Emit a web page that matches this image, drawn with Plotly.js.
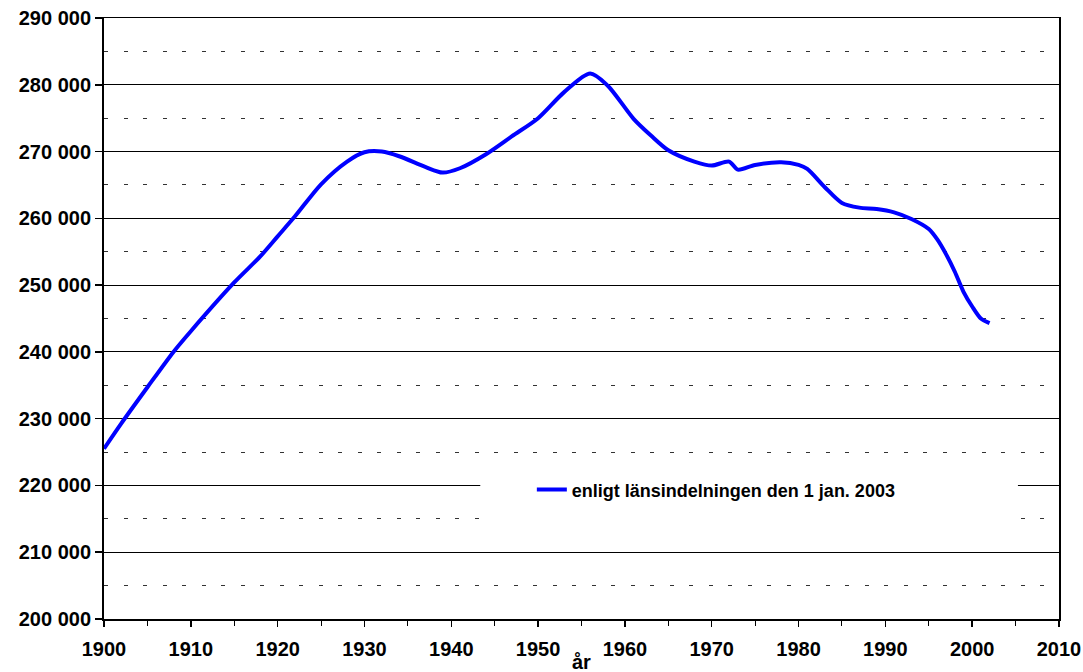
<!DOCTYPE html>
<html>
<head>
<meta charset="utf-8">
<script src="https://cdn.plot.ly/plotly-3.0.1.min.js"></script>
<style>html,body{margin:0;padding:0;background:#fff;overflow:hidden;}#chart{width:1083px;height:672px;}</style>
</head>
<body>
<div id="chart"></div>
<script>
const seriesName = 'enligt länsindelningen den 1 jan. 2003';
const years = [1900, 1902, 1905, 1908, 1910, 1915, 1918, 1920, 1922, 1925, 1928, 1930, 1932, 1934, 1937, 1939, 1941, 1944, 1947, 1950, 1953, 1956, 1958, 1961, 1963, 1965, 1968, 1970, 1972, 1973, 1975, 1978, 1980, 1981, 1983, 1985, 1987, 1989, 1991, 1993, 1995, 1996, 1997, 1998, 1999, 2000, 2001, 2002];
const population = [225500, 229300, 234700, 240000, 243100, 250400, 254300, 257300, 260300, 265100, 268500, 269900, 270000, 269300, 267700, 266850, 267500, 269600, 272300, 275000, 278900, 281700, 279900, 274900, 272400, 270200, 268500, 267900, 268500, 267300, 268000, 268400, 268000, 267400, 264700, 262300, 261600, 261400, 260900, 259900, 258400, 256800, 254600, 252000, 249000, 246800, 245000, 244300];
const xTicks = [1900, 1910, 1920, 1930, 1940, 1950, 1960, 1970, 1980, 1990, 2000, 2010];
const yTicks = [200000, 210000, 220000, 230000, 240000, 250000, 260000, 270000, 280000, 290000];
const yTickText = ['200 000', '210 000', '220 000', '230 000', '240 000', '250 000', '260 000', '270 000', '280 000', '290 000'];
const xTitle = 'år';

const FONT = 'Liberation Sans, Arial, sans-serif';

const trace = {
  x: years,
  y: population,
  type: 'scatter',
  mode: 'lines',
  name: seriesName,
  line: {color: '#0000FF', width: 4, shape: 'spline', smoothing: 0.8}
};

const layout = {
  width: 1083,
  height: 672,
  margin: {l: 104, r: 24, t: 18, b: 53, pad: 0},
  paper_bgcolor: '#ffffff',
  plot_bgcolor: '#ffffff',
  font: {family: FONT, size: 20, color: '#000'},
  showlegend: true,
  legend: {
    x: 0.448, y: 0.215, xanchor: 'left', yanchor: 'middle',
    bgcolor: 'rgba(0,0,0,0)', borderwidth: 0,
    font: {family: FONT, size: 18, color: '#000', weight: 'bold'}
  },
  xaxis: {
    range: [1900, 2010],
    tickvals: xTicks,
    ticktext: xTicks.map(String),
    ticks: 'outside', ticklen: 6, tickwidth: 1.5, tickcolor: '#000',
    tickfont: {family: FONT, size: 20, color: '#000', weight: 'bold'},
    ticklabelstandoff: 5,
    showline: true, linecolor: '#000', linewidth: 1.5, mirror: true,
    showgrid: false, zeroline: false,
    minor: {dtick: 5, tick0: 1900, ticks: 'outside', ticklen: 5, tickwidth: 1, tickcolor: '#000', showgrid: false},
    automargin: false
  },
  yaxis: {
    range: [200000, 290000],
    tickvals: yTicks,
    ticktext: yTickText,
    ticks: 'outside', ticklen: 7, tickwidth: 1.5, tickcolor: '#000',
    tickfont: {family: FONT, size: 20, color: '#000', weight: 'bold'},
    showline: true, linecolor: '#000', linewidth: 2, mirror: true,
    showgrid: true, gridcolor: '#000', gridwidth: 1,
    zeroline: false,
    minor: {dtick: 5000, tick0: 200000, showgrid: true, gridcolor: '#333', gridwidth: 1, griddash: '4px,15.5px', ticks: ''},
    automargin: false
  },
  annotations: [{
    text: xTitle, xref: 'paper', yref: 'paper', x: 0.5, y: -0.0495,
    xanchor: 'center', yanchor: 'top', showarrow: false,
    font: {family: FONT, size: 20, color: '#000', weight: 'bold'}
  }],
  shapes: [{
    type: 'rect', xref: 'paper', yref: 'paper',
    x0: 0.394, x1: 0.957, y0: 0.157, y1: 0.265,
    fillcolor: '#ffffff', line: {width: 0}, layer: 'above'
  }]
};

Plotly.newPlot('chart', [trace], layout, {staticPlot: true, displayModeBar: false});
</script>
</body>
</html>
